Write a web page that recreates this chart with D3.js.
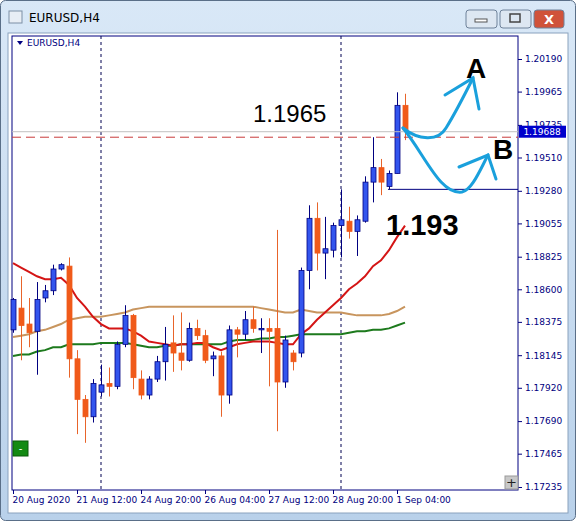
<!DOCTYPE html>
<html><head><meta charset="utf-8">
<script src="https://cdn.jsdelivr.net/npm/d3@7"></script>
<style>body{margin:0;background:#fff;} svg{display:block;font-family:Tahoma,"DejaVu Sans",sans-serif;}</style>
</head><body>
<div id="chart"></div>
<script>
// OHLC of the 50 H4 bars
var opens  = [1.1832,1.1847,1.1836,1.1831,1.1854,1.1859,1.1874,1.1876,1.1812,1.1784,1.1772,1.1789,1.1795,1.1793,1.1822,1.1842,1.1798,1.1787,1.1798,1.1810,1.1823,1.1816,1.1811,1.1833,1.1828,1.1812,1.1814,1.1787,1.1832,1.1829,1.1839,1.1832,1.1833,1.1833,1.1796,1.1816,1.1816,1.1873,1.1909,1.1885,1.1887,1.1904,1.1907,1.1900,1.1907,1.1934,1.1944,1.1931,1.1940,1.1987];
var highs  = [1.1854,1.1869,1.1854,1.1865,1.1863,1.1877,1.1878,1.1882,1.1818,1.1787,1.1798,1.1808,1.1806,1.1824,1.1849,1.1843,1.1804,1.1800,1.1814,1.1834,1.1842,1.1844,1.1837,1.1839,1.1832,1.1817,1.1817,1.1835,1.1834,1.1845,1.1848,1.1840,1.1840,1.1901,1.1828,1.1818,1.1875,1.1918,1.1920,1.1910,1.1906,1.1929,1.1917,1.1911,1.1938,1.1965,1.1950,1.1942,1.1996,1.1995];
var lows   = [1.1830,1.1811,1.1820,1.1801,1.1851,1.1856,1.1873,1.1799,1.1760,1.1754,1.1768,1.1786,1.1786,1.1791,1.1820,1.1791,1.1784,1.1784,1.1796,1.1797,1.1803,1.1804,1.1810,1.1825,1.1809,1.1800,1.1772,1.1781,1.1813,1.1825,1.1830,1.1816,1.1793,1.1762,1.1792,1.1804,1.1813,1.1860,1.1873,1.1867,1.1882,1.1882,1.1895,1.1883,1.1906,1.1920,1.1925,1.1929,1.1940,1.1963];
var closes = [1.1853,1.1835,1.1830,1.1853,1.1859,1.1874,1.1877,1.1812,1.1784,1.1772,1.1795,1.1794,1.1793,1.1822,1.1842,1.1799,1.1787,1.1798,1.1810,1.1822,1.1816,1.1811,1.1833,1.1828,1.1811,1.1814,1.1787,1.1832,1.1829,1.1839,1.1833,1.1833,1.1831,1.1796,1.1825,1.1810,1.1873,1.1909,1.1885,1.1888,1.1904,1.1908,1.1900,1.1908,1.1934,1.1944,1.1934,1.1940,1.1987,1.1970];

// moving averages
var maFast = [1.1878,1.1875,1.1872,1.1869,1.1867,1.1867,1.1868,1.1863,1.1854,1.1848,1.1841,1.1836,1.1833,1.1833,1.1833,1.1831,1.1828,1.1824,1.1823,1.1822,1.1821,1.1822,1.1822,1.1823,1.1823,1.1820,1.1818,1.1820,1.1822,1.1823,1.1824,1.1824,1.1824,1.1823,1.1822,1.1822,1.1829,1.1833,1.1839,1.1844,1.1849,1.1854,1.1860,1.1864,1.1869,1.1876,1.1880,1.1887,1.1896,1.1904];
var maMid  = [1.1827,1.1828,1.1829,1.1831,1.1832,1.1834,1.1836,1.1839,1.1840,1.1841,1.1841,1.1841,1.1842,1.1843,1.1844,1.1846,1.1847,1.1848,1.1848,1.1848,1.1848,1.1848,1.1848,1.1848,1.1848,1.1848,1.1848,1.1848,1.1848,1.1848,1.1848,1.1847,1.1846,1.1845,1.1844,1.1844,1.1846,1.1845,1.1844,1.1844,1.1844,1.1844,1.1843,1.1842,1.1842,1.1842,1.1842,1.1843,1.1845,1.1848];
var maSlow = [1.1814,1.1815,1.1815,1.1817,1.1818,1.1820,1.1820,1.1822,1.1822,1.1822,1.1822,1.1823,1.1823,1.1823,1.1823,1.1822,1.1821,1.1820,1.1820,1.1821,1.1821,1.1822,1.1822,1.1822,1.1822,1.1822,1.1822,1.1824,1.1825,1.1825,1.1825,1.1826,1.1826,1.1827,1.1827,1.1828,1.1829,1.1829,1.1829,1.1829,1.1829,1.1829,1.1830,1.1831,1.1831,1.1832,1.1832,1.1833,1.1835,1.1837];

var priceTicks = [1.20190,1.19965,1.19735,1.19510,1.19280,1.19055,1.18825,1.18600,1.18375,1.18145,1.17920,1.17690,1.17465,1.17235];
var timeTickIdx = [0,8,16,24,32,40,48];
var timeLabels = ["20 Aug 2020","21 Aug 12:00","24 Aug 20:00","26 Aug 04:00","27 Aug 12:00","28 Aug 20:00","1 Sep 04:00"];
var separatorIdx = [11,41];
var bidPrice = 1.19688, levelPrice = 1.1965, boxLow = 1.1929;

var W = 576, H = 521;
var plot = {left: 12, top: 36, right: 518, bottom: 490};

var svg = d3.select("#chart").append("svg").attr("width", W).attr("height", H);

// window chrome
var grad = svg.append("defs").append("linearGradient").attr("id","tb").attr("x1",0).attr("y1",0).attr("x2",0).attr("y2",1);
grad.append("stop").attr("offset","0").attr("stop-color","#d9e8f7");
grad.append("stop").attr("offset","1").attr("stop-color","#b9d1ea");
svg.append("rect").attr("x",0.5).attr("y",0.5).attr("width",W-1).attr("height",H-1).attr("rx",5)
  .attr("fill","url(#tb)").attr("stroke","#5a6f88");
svg.append("rect").attr("x",8).attr("y",33).attr("width",W-16).attr("height",H-41).attr("fill","#fff").attr("stroke","#8aa2bd");
svg.append("rect").attr("x",9).attr("y",11).attr("width",13).attr("height",12).attr("fill","#e8eef5").attr("stroke","#7d8fa5");
svg.append("text").attr("x",29).attr("y",22).attr("font-size",12).attr("fill","#000").text("EURUSD,H4");
var btns = [{x:466,w:31,c:"#dde7f2"},{x:500,w:31,c:"#dde7f2"},{x:534,w:30,c:"#d0523a"}];
svg.selectAll(".btn").data(btns).enter().append("rect")
  .attr("x",function(d){return d.x}).attr("y",10).attr("width",function(d){return d.w}).attr("height",18).attr("rx",3)
  .attr("fill",function(d){return d.c}).attr("stroke","#6f829a");
svg.append("rect").attr("x",475).attr("y",19).attr("width",12).attr("height",3).attr("fill","#fff").attr("stroke","#555");
svg.append("rect").attr("x",510).attr("y",14).attr("width",10).attr("height",8).attr("fill","none").attr("stroke","#444").attr("stroke-width",1.5);
svg.append("text").attr("x",549).attr("y",24).attr("text-anchor","middle").attr("font-size",13).attr("font-weight","bold").attr("fill","#fff").text("X");

// scales
var x = d3.scaleLinear().domain([0, 1]).range([13, 21]);
var y = d3.scaleLinear().domain([1.17235, 1.20190]).range([487, 59]);

svg.append("rect").attr("x",plot.left).attr("y",plot.top).attr("width",plot.right-plot.left).attr("height",plot.bottom-plot.top)
  .attr("fill","#fff").attr("stroke","#000080");

// separators
svg.selectAll(".sep").data(separatorIdx).enter().append("line")
  .attr("x1",function(d){return x(d)}).attr("x2",function(d){return x(d)})
  .attr("y1",plot.top).attr("y2",plot.bottom).attr("stroke","#000050").attr("stroke-dasharray","3,3");

// axes
var yAxis = d3.axisRight(y).tickValues(priceTicks).tickFormat(d3.format(".5f")).tickSize(4);
var ga = svg.append("g").attr("transform","translate(" + plot.right + ",0)").call(yAxis);
ga.select(".domain").remove();
ga.selectAll("line").attr("stroke","#000080");
ga.selectAll("text").attr("fill","#000080").attr("font-size",9).attr("font-family","Tahoma,'DejaVu Sans',sans-serif");

var xAxis = d3.axisBottom(x).tickValues(timeTickIdx).tickSize(4).tickFormat(function(d,i){return timeLabels[i]});
var gx = svg.append("g").attr("transform","translate(0," + plot.bottom + ")").call(xAxis);
gx.select(".domain").remove();
gx.selectAll("line").attr("stroke","#000080");
gx.selectAll("text").attr("fill","#000080").attr("font-size",9).attr("text-anchor","start").attr("dx",-1)
  .attr("font-family","Tahoma,'DejaVu Sans',sans-serif");

// moving averages
function maLine(vals, color) {
  svg.append("path").datum(vals).attr("fill","none").attr("stroke",color).attr("stroke-width",2)
    .attr("d", d3.line().x(function(d,i){return x(i)}).y(function(d){return y(d)}));
}
maLine(maMid, "#c8955e");
maLine(maSlow, "#1d7a1d");
maLine(maFast, "#d41515");

// candles
var bars = d3.range(opens.length).map(function(i){
  return {i:i, o:opens[i], h:highs[i], l:lows[i], c:closes[i]};
});
var g = svg.append("g");
g.selectAll(".wick").data(bars).enter().append("line")
  .attr("x1",function(d){return x(d.i)+0.5}).attr("x2",function(d){return x(d.i)+0.5})
  .attr("y1",function(d){return y(d.h)}).attr("y2",function(d){return y(d.l)})
  .attr("stroke",function(d){return d.c>=d.o ? "#000080" : "#e8642a"});
g.selectAll(".body").data(bars).enter().append("rect")
  .attr("x",function(d){return x(d.i)-2}).attr("width",5)
  .attr("y",function(d){return y(Math.max(d.o,d.c))})
  .attr("height",function(d){return Math.max(1, Math.abs(y(d.o)-y(d.c)))})
  .attr("fill",function(d){return d.c>=d.o ? "#3355ee" : "#f05a1a"})
  .attr("stroke",function(d){return d.c>=d.o ? "#000080" : "#f05a1a"}).attr("stroke-width",0.8);

// level lines
svg.append("line").attr("x1",plot.left).attr("x2",plot.right).attr("y1",y(bidPrice)).attr("y2",y(bidPrice)).attr("stroke","#c0c0c0");
svg.append("line").attr("x1",plot.left).attr("x2",plot.right).attr("y1",y(levelPrice)).attr("y2",y(levelPrice))
  .attr("stroke","#c83a3a").attr("stroke-dasharray","9,5");
svg.append("line").attr("x1",x(47)-1).attr("x2",plot.right).attr("y1",y(boxLow)).attr("y2",y(boxLow)).attr("stroke","#000080");
svg.append("rect").attr("x",plot.right+1).attr("y",y(bidPrice)-6).attr("width",47).attr("height",12).attr("fill","#0000cc");
svg.append("text").attr("x",plot.right+24).attr("y",y(bidPrice)+3.5).attr("text-anchor","middle").attr("font-size",9).attr("fill","#fff").text("1.19688");

// arrows
var arrow = svg.append("g").attr("fill","none").attr("stroke","#1aa0dc").attr("stroke-width",3).attr("stroke-linecap","round");
arrow.append("path").attr("d","M403,128 C418,140 438,142 446,128 C456,112 464,96 473,78");
arrow.append("path").attr("d","M445,95 L473,78 L479,109");
arrow.append("path").attr("d","M403,128 C425,155 440,195 462,192 C472,190 480,170 488,155");
arrow.append("path").attr("d","M459,167 L488,155 L496,179");

// annotations
svg.append("text").attr("x",253).attr("y",122).attr("font-size",24).attr("font-family","Arial,'Liberation Sans',sans-serif").attr("fill","#000").text("1.1965");
svg.append("text").attr("x",386).attr("y",235).attr("font-size",29).attr("font-weight","bold").attr("font-family","Arial,'Liberation Sans',sans-serif").attr("fill","#000").text("1.193");
svg.append("text").attr("x",476).attr("y",78).attr("text-anchor","middle").attr("font-size",28).attr("font-weight","bold").attr("font-family","Arial,'Liberation Sans',sans-serif").text("A");
svg.append("text").attr("x",503).attr("y",159).attr("text-anchor","middle").attr("font-size",28).attr("font-weight","bold").attr("font-family","Arial,'Liberation Sans',sans-serif").text("B");

// chart label + buttons
svg.append("path").attr("d","M17,41 L23,41 L20,45 Z").attr("fill","#000080");
svg.append("text").attr("x",27).attr("y",46).attr("font-size",9).attr("fill","#000080").text("EURUSD,H4");
svg.append("rect").attr("x",13).attr("y",441).attr("width",15).attr("height",15).attr("fill","#138a13").attr("stroke","#0a5a0a");
svg.append("text").attr("x",20.5).attr("y",452).attr("text-anchor","middle").attr("font-size",10).attr("fill","#fff").text("-");
svg.append("rect").attr("x",505).attr("y",476).attr("width",13).attr("height",13).attr("fill","#c8c8c8").attr("stroke","#999");
svg.append("text").attr("x",511.5).attr("y",487).attr("text-anchor","middle").attr("font-size",13).attr("fill","#222").text("+");
</script>
</body></html>
